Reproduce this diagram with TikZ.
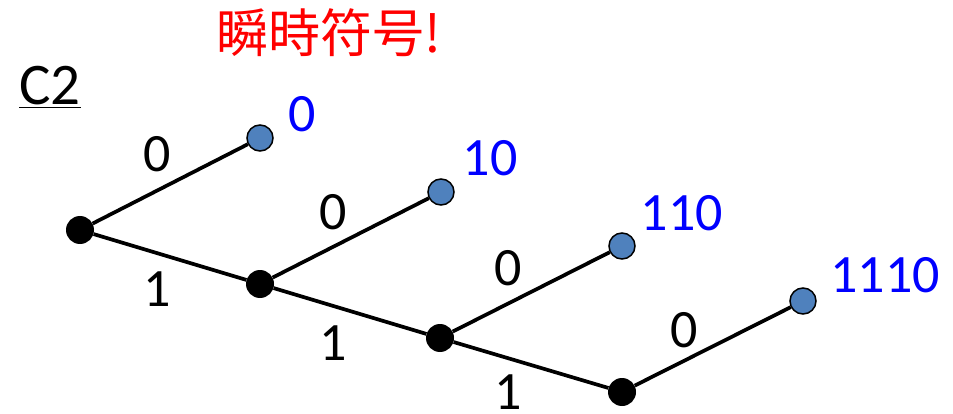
\documentclass[tikz,border=0pt]{standalone}
\usepackage{fontspec}
\setmainfont{Carlito}
\newfontfamily\cjkfont{Noto Sans CJK JP}
\definecolor{leafblue}{HTML}{4F81BD}
\begin{document}
\begin{tikzpicture}[x=1pt,y=-1pt,
  inner/.style={circle,fill=black,inner sep=0pt,minimum size=28pt},
  leaf/.style={circle,fill=leafblue,draw=black,line width=1.5pt,inner sep=0pt,minimum size=26pt},
  edge/.style={line width=3.7pt},
  bit/.style={inner sep=0pt,font=\fontsize{54}{54}\selectfont},
  code/.style={inner sep=0pt,text=blue,font=\fontsize{54}{54}\selectfont}]
\useasboundingbox (0,0) rectangle (953,414);
\node[inner] (r) at (80,230) {};
\node[inner] (a) at (260,284) {};
\node[inner] (b) at (440,338) {};
\node[inner] (c) at (622,392) {};
\node[leaf] (l0) at (260,138) {};
\node[leaf] (l1) at (441,192) {};
\node[leaf] (l2) at (622,246) {};
\node[leaf] (l3) at (803,301) {};
\draw[edge] (r) -- (l0);
\draw[edge] (r) -- (a);
\draw[edge] (a) -- (l1);
\draw[edge] (a) -- (b);
\draw[edge] (b) -- (l2);
\draw[edge] (b) -- (c);
\draw[edge] (c) -- (l3);
\node[bit] (e1) at (157,154) {0};
\node[bit] (e2) at (157,289) {1};
\node[bit] (e3) at (333,212) {0};
\node[bit] (e4) at (333,343) {1};
\node[bit] (e5) at (508,268) {0};
\node[bit] (e6) at (508,392) {1};
\node[bit] (e7) at (684,330) {0};
\node[code] (c0) at (302,114) {0};
\node[code] (c1) at (490,158) {10};
\node[code] (c2) at (682,213) {110};
\node[code] (c3) at (885,275) {1110};
\node[inner sep=0pt,text=red,font=\cjkfont\fontsize{52}{52}\selectfont] (title) at (329,33) {瞬時符号!};
\node[inner sep=0pt,font=\fontsize{59}{59}\selectfont] (name) at (50,87) {\underline{C2}};
\end{tikzpicture}
\end{document}
